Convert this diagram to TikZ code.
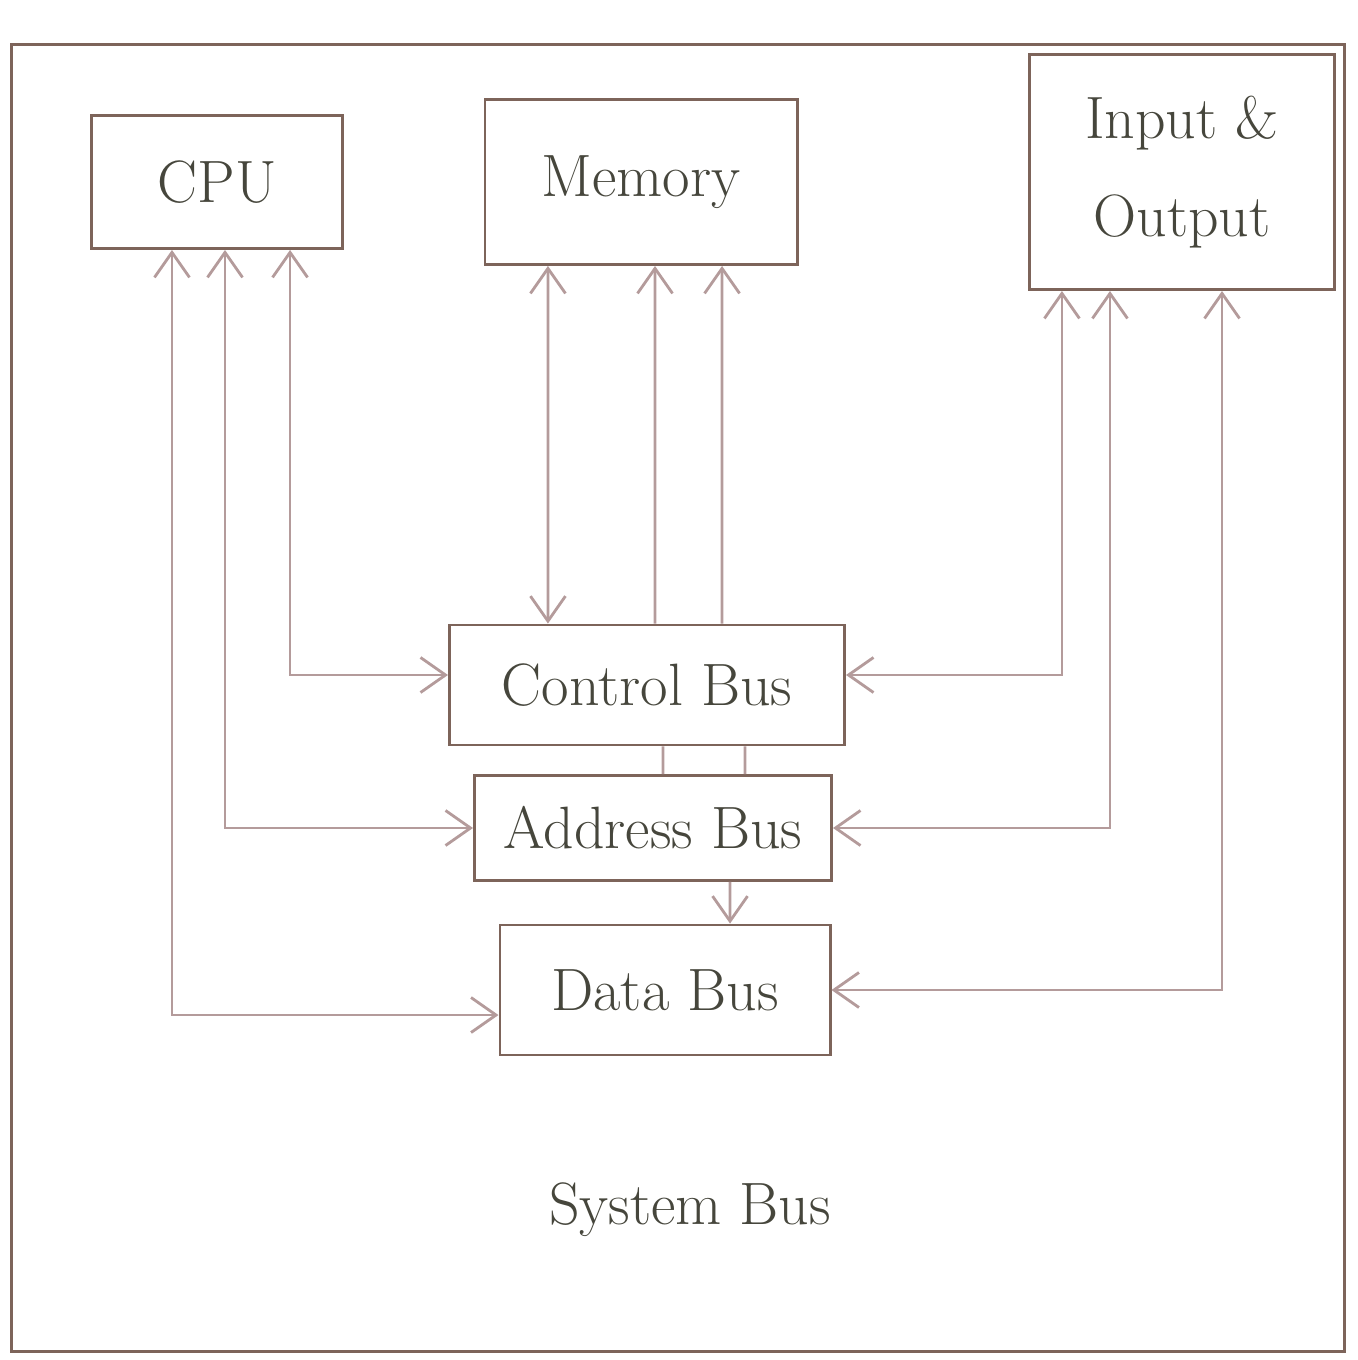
\documentclass[tikz,border=0pt]{standalone}
\usepackage{tikz}
\usetikzlibrary{arrows.meta,calc,positioning}
\definecolor{penline}{RGB}{125,100,90}
\definecolor{penwire}{RGB}{180,155,155}
\definecolor{pentext}{RGB}{70,70,60}

\begin{document}
\begin{tikzpicture}[x=0.01cm,y=-0.01cm,>={Straight Barb[length=2.5mm,width=3.5mm]},font=\fontsize{17}{28}\selectfont,every node/.style={align=center,text=pentext},
    unit/.style={draw=penline,thick,inner sep=0pt},
    wire/.style={draw=penwire,thick}]
    \useasboundingbox (0,0) rectangle (1358,1360);
    \node[unit,minimum width=13.33cm,minimum height=13.07cm] (frame) at (678,698) {};
    % units
    \node[unit,minimum width=2.51cm,minimum height=1.33cm] (cpu) at (217,182) {CPU};
    \node[unit,minimum width=3.12cm,minimum height=1.65cm] (mem) at (641,182) {Memory};
    \node[unit,minimum width=3.05cm,minimum height=2.35cm] (io) at (1182,172) {Input \&\\Output};
    % buses
    \node[unit,minimum width=3.95cm,minimum height=1.2cm] (ctrl) at (647,685) {Control Bus};
    \node[unit,minimum width=3.57cm,minimum height=1.05cm] (addr) at (653,828) {Address Bus};
    \node[unit,minimum width=3.3cm,minimum height=1.3cm] (data) at (665,990) {Data Bus};
    \node (sys) at (690,1210) {System Bus};
    % CPU wires
    \draw[wire,<->] ([xshift=-4.5mm]cpu.south) |- ([yshift=-2.5mm]data.west);
    \draw[wire,<->] ([xshift=0.8mm]cpu.south) |- (addr.west);
    \draw[wire,<->] ([xshift=7.3mm]cpu.south) |- ([yshift=1mm]ctrl.west);
    % memory wires
    \draw[wire,<->] ([xshift=-9.3mm]mem.south) -- ([xshift=-9.9mm]ctrl.north);
    \draw[wire,<-] ([xshift=1.4mm]mem.south) -- ([xshift=0.8mm]ctrl.north);
    \draw[wire,<-] ([xshift=8.1mm]mem.south) -- ([xshift=7.5mm]ctrl.north);
    % between buses
    \draw[wire] ([xshift=1.6mm]ctrl.south) -- ([xshift=1mm]addr.north);
    \draw[wire] ([xshift=9.8mm]ctrl.south) -- ([xshift=9.2mm]addr.north);
    \draw[wire,->] ([xshift=7.7mm]addr.south) -- ([xshift=6.5mm]data.north);
    % I/O wires
    \draw[wire,<->] ([xshift=-12mm]io.south) |- ([yshift=1mm]ctrl.east);
    \draw[wire,<->] ([xshift=-7.2mm]io.south) |- (addr.east);
    \draw[wire,<->] ([xshift=4mm]io.south) |- (data.east);
\end{tikzpicture}
\end{document}
